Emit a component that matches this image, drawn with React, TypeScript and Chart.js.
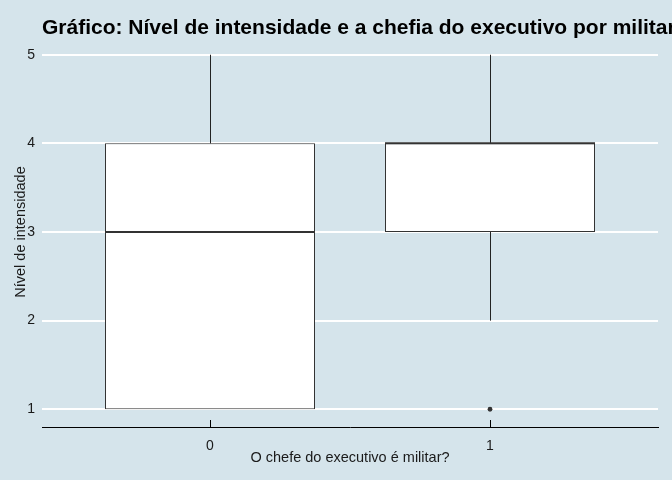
import React, { useEffect, useRef } from 'react';
import { Chart, registerables } from 'chart.js';

Chart.register(...registerables);

const TITLE = 'Gráfico: Nível de intensidade e a chefia do executivo por militar';
const X_TITLE = 'O chefe do executivo é militar?';
const Y_TITLE = 'Nível de intensidade';

const categories = ['0', '1'];
const categoryPositions = [0, 1];
const whiskerLow = [1, 2];
const q1 = [1, 3];
const median = [3, 4];
const q3 = [4, 4];
const whiskerHigh = [5, 5];
const outlierCategory = [1];
const outlierValue = [1];
const yTicks = [1, 2, 3, 4, 5];

const BG = '#d5e4eb';
const INK = '#333333';
const FONT = '"Liberation Sans", Arial, sans-serif';

const boxPlugin = {
  id: 'boxExtras',
  beforeDraw(chart: any) {
    const { ctx, width, height } = chart;
    ctx.save();
    ctx.fillStyle = BG;
    ctx.fillRect(0, 0, width, height);
    ctx.restore();
  },
  afterDatasetsDraw(chart: any) {
    const { ctx } = chart;
    const yScale = chart.scales.y;
    const meta = chart.getDatasetMeta(0);
    ctx.save();
    meta.data.forEach((bar: any, i: number) => {
      const { x, width } = bar.getProps(['x', 'width'], true);
      const wx = Math.round(x) + 0.5;
      ctx.strokeStyle = '#222222';
      ctx.lineWidth = 1;
      ctx.beginPath();
      ctx.moveTo(wx, yScale.getPixelForValue(q3[i]));
      ctx.lineTo(wx, yScale.getPixelForValue(whiskerHigh[i]));
      ctx.moveTo(wx, yScale.getPixelForValue(q1[i]));
      ctx.lineTo(wx, yScale.getPixelForValue(whiskerLow[i]));
      ctx.stroke();
      ctx.strokeStyle = INK;
      ctx.lineWidth = 2;
      ctx.beginPath();
      const my = yScale.getPixelForValue(median[i]);
      ctx.moveTo(x - width / 2, my);
      ctx.lineTo(x + width / 2, my);
      ctx.stroke();
    });
    ctx.restore();
  },
  afterDraw(chart: any) {
    const { ctx, chartArea } = chart;
    const xScale = chart.scales.x;
    ctx.save();
    ctx.strokeStyle = '#000';
    ctx.lineWidth = 1;
    xScale.ticks.forEach((t: any) => {
      const px = Math.round(xScale.getPixelForValue(t.value)) + 0.5;
      ctx.beginPath();
      ctx.moveTo(px, chartArea.bottom);
      ctx.lineTo(px, chartArea.bottom - 7);
      ctx.stroke();
    });
    ctx.fillStyle = '#000';
    ctx.font = `bold 21px ${FONT}`;
    ctx.textAlign = 'left';
    ctx.textBaseline = 'alphabetic';
    ctx.fillText(TITLE, chartArea.left, 34);
    ctx.restore();
  },
};

export default function App() {
  const ref = useRef<HTMLCanvasElement | null>(null);

  useEffect(() => {
    document.body.style.margin = '0';
    document.body.style.background = BG;
    const canvas = ref.current;
    if (!canvas) return;
    const chart = new Chart(canvas, {
      type: 'bar',
      data: {
        datasets: [
          {
            type: 'bar',
            data: categoryPositions.map((x, i) => ({ x, y: [q1[i], q3[i]] })) as any,
            backgroundColor: '#ffffff',
            borderColor: INK,
            borderWidth: 1,
            borderSkipped: false,
            barPercentage: 0.75,
            categoryPercentage: 1,
            order: 2,
          } as any,
          {
            type: 'scatter',
            data: outlierCategory.map((c, i) => ({ x: c, y: outlierValue[i] })),
            backgroundColor: INK,
            borderColor: INK,
            borderWidth: 0,
            pointRadius: 2.4,
            order: 0,
          } as any,
        ],
      },
      plugins: [boxPlugin],
      options: {
        responsive: false,
        animation: false,
        layout: { padding: { top: 37, right: 14, left: 0, bottom: 0 } },
        plugins: {
          legend: { display: false },
          tooltip: { enabled: false },
          title: { display: false },
        },
        scales: {
          x: {
            type: 'linear',
            offset: false,
            min: -0.6,
            max: 1.6,
            afterBuildTicks: (scale: any) => {
              scale.ticks = categoryPositions.map((v) => ({ value: v }));
            },
            afterFit: (scale: any) => {
              scale.height = 53;
            },
            ticks: {
              padding: 11,
              color: '#1a1a1a',
              font: { family: FONT, size: 14 },
              callback: (_v: any, i: number) => categories[i],
              maxRotation: 0,
            },
            grid: { display: true, offset: false, drawOnChartArea: false, drawTicks: false },
            border: { display: true, color: '#000', width: 1 },
            title: {
              display: true,
              text: X_TITLE,
              color: '#1a1a1a',
              font: { family: FONT, size: 14.5 },
              padding: { top: 0, bottom: 13 },
            },
          },
          y: {
            type: 'linear',
            min: 0.8,
            max: 5.2,
            afterBuildTicks: (scale: any) => {
              scale.ticks = yTicks.map((v) => ({ value: v }));
            },
            afterFit: (scale: any) => {
              scale.width = 42;
            },
            ticks: {
              padding: 7,
              color: '#1a1a1a',
              font: { family: FONT, size: 14 },
              callback: (v: any) => String(v),
            },
            grid: { color: '#ffffff', lineWidth: 2, drawTicks: false },
            border: { display: false },
            title: {
              display: true,
              text: Y_TITLE,
              color: '#1a1a1a',
              font: { family: FONT, size: 14.5 },
              padding: { top: 12, bottom: 0 },
            },
          },
        },
      } as any,
    });
    return () => chart.destroy();
  }, []);

  return (
    <div style={{ width: 672, height: 480, background: BG }}>
      <canvas ref={ref} width={672} height={480} style={{ display: 'block' }} />
    </div>
  );
}
